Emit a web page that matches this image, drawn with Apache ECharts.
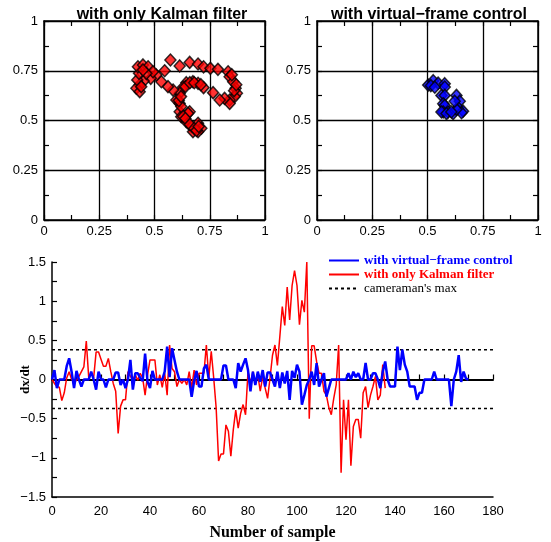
<!DOCTYPE html>
<html>
<head>
<meta charset="utf-8">
<script src="https://cdn.jsdelivr.net/npm/echarts@6/dist/echarts.min.js"></script>
<style>
  html, body { margin: 0; padding: 0; background: #fff; }
  #chart { width: 551px; height: 542px; }
</style>
</head>
<body>
<div id="chart"></div>
<script>
// camera position scatter, only Kalman filter [x, y]
const kalmanXY = [
  [0.572, 0.804], [0.614, 0.774], [0.659, 0.792], [0.697, 0.784], [0.722, 0.770],
  [0.753, 0.762], [0.787, 0.757], [0.833, 0.745], [0.840, 0.720], [0.856, 0.695],
  [0.867, 0.662], [0.873, 0.637], [0.863, 0.620], [0.840, 0.603], [0.840, 0.586],
  [0.817, 0.611], [0.795, 0.603], [0.765, 0.640], [0.722, 0.665], [0.697, 0.687],
  [0.674, 0.695], [0.644, 0.690], [0.629, 0.667], [0.614, 0.637], [0.599, 0.603],
  [0.614, 0.586], [0.614, 0.544], [0.621, 0.519], [0.644, 0.494], [0.659, 0.544],
  [0.667, 0.469], [0.674, 0.444], [0.697, 0.486], [0.712, 0.461], [0.697, 0.444],
  [0.652, 0.536], [0.621, 0.570], [0.584, 0.653], [0.561, 0.670], [0.531, 0.695],
  [0.508, 0.729], [0.483, 0.712], [0.451, 0.698], [0.433, 0.678], [0.418, 0.662],
  [0.422, 0.704], [0.430, 0.737], [0.425, 0.770], [0.448, 0.779], [0.471, 0.770],
  [0.493, 0.745], [0.546, 0.750], [0.433, 0.645], [0.440, 0.670], [0.463, 0.737],
  [0.448, 0.754], [0.630, 0.520], [0.640, 0.510], [0.660, 0.480], [0.680, 0.460],
  [0.690, 0.450], [0.700, 0.470], [0.610, 0.600], [0.620, 0.620], [0.640, 0.670],
  [0.660, 0.690], [0.680, 0.690], [0.710, 0.680], [0.850, 0.730], [0.860, 0.650],
  [0.870, 0.680]
];

// camera position scatter, with virtual-frame control [x, y]
const virtualXY = [
  [0.503, 0.678], [0.526, 0.700], [0.548, 0.688], [0.578, 0.685], [0.578, 0.668],
  [0.563, 0.626], [0.578, 0.626], [0.571, 0.584], [0.578, 0.576], [0.571, 0.543],
  [0.593, 0.543], [0.616, 0.535], [0.631, 0.626], [0.646, 0.597], [0.639, 0.564],
  [0.661, 0.547], [0.654, 0.539], [0.631, 0.556], [0.515, 0.675], [0.533, 0.667],
  [0.563, 0.543], [0.586, 0.535], [0.608, 0.543], [0.623, 0.597]
];

// dx/dt per sample, with virtual-frame control (samples 0..170)
const virtualDx = [
  0, 0.12, -0.11, 0, 0, 0, 0.17, 0.27, 0.1, -0.11,
  0.11, 0, -0.09, 0, 0, 0, 0.1, 0, -0.13, 0.1,
  0, 0, -0.1, 0, 0, 0, 0.09, 0.09, -0.07, 0,
  -0.11, 0, 0.25, -0.13, 0.08, 0.08, 0.02, -0.02, 0.33, -0.03,
  -0.11, 0.11, 0, 0, 0, 0, 0.1, 0.42, 0.03, 0.4,
  0.25, 0.1, 0, 0, 0, 0, 0, -0.22, -0.02, 0.11,
  -0.09, -0.09, 0.14, 0.19, 0, 0, 0, 0, 0, 0,
  0.18, 0.18, 0, 0, 0, -0.11, 0.21, 0.1, 0.19, 0.27,
  0.12, -0.15, 0.1, -0.07, 0.1, -0.03, 0.12, -0.09, 0.09, 0.09,
  0, -0.09, 0.1, -0.11, 0.09, -0.05, 0.11, -0.26, 0.11, 0.02,
  0.19, 0.1, -0.32, -0.2, -0.07, 0, 0.1, -0.07, 0.21, -0.09,
  0, 0.08, -0.22, -0.11, 0, 0, 0, 0, 0, 0,
  0, 0.08, 0, 0.1, 0.03, 0.08, 0, 0, 0.21, 0,
  0, 0.08, 0.08, 0, -0.11, 0.1, 0.23, 0, -0.09, -0.09,
  -0.09, 0.42, 0.12, 0.38, 0.19, 0.1, -0.09, -0.09, -0.09, -0.26,
  -0.17, -0.17, 0, 0, 0, 0, 0.1, 0, 0, 0,
  0, 0, 0, -0.34, 0, 0.1, 0.31, -0.03, 0.1, 0.01,
  0
];

// dx/dt per sample, with only Kalman filter (samples 0..136)
const kalmanDx = [
  0, -0.05, -0.09, -0.1, -0.27, -0.17, 0.02, 0.1, 0, -0.03,
  -0.01, 0.04, 0.1, 0.16, 0.49, 0.02, 0.08, 0.02, 0.35, 0.35,
  0.26, 0.17, 0.17, 0.27, 0.1, -0.05, -0.15, -0.69, -0.34, -0.26,
  -0.26, 0.1, 0.04, 0, 0.06, -0.01, 0.08, 0.02, -0.2, 0.06,
  0.25, 0.25, 0.25, -0.07, 0.06, -0.1, 0.08, -0.2, 0.44, 0.14,
  0.1, -0.09, 0, -0.05, 0, -0.07, 0.1, -0.11, 0.12, -0.07,
  0.08, 0.08, 0.08, 0.44, 0.02, 0.36, 0.02, -0.36, -1.04, -0.95,
  -0.95, -0.58, -0.66, -0.98, -0.64, -0.39, -0.62, -0.43, -0.32, -0.45,
  0.1, -0.05, 0.1, -0.05, 0.06, -0.15, 0.04, -0.11, -0.24, 0.02,
  0.31, 0.44, 0.18, 0.55, 0.93, 0.69, 1.18, 0.76, 1.2, 1.39,
  1.2, 0.7, 1.01, 0.86, 1.5, -0.5, 0.43, 0.43, 0.23, 0.08,
  0.08, -0.15, -0.2, -0.36, -0.45, -0.24, -0.07, 0.44, -1.19, -0.26,
  -0.77, -0.26, -1.1, -0.6, -0.51, -0.51, -0.75, -0.17, -0.09, -0.36,
  -0.2, -0.09, 0.04, -0.26, -0.2, 0.19, -0.11
];

// cameraman's max speed levels
const cameramanMax = [0.38, -0.37];
const sampleRange = [0, 180];

const MINUS = '\u2212';
const sans = '"Liberation Sans", Arial, sans-serif';
const serif = '"Liberation Serif", "Times New Roman", serif';

function fmt(v) {
  return String(v).replace('-', MINUS);
}

function unitAxis(gridIndex, showLabel, isX) {
  return {
    gridIndex: gridIndex,
    type: 'value',
    min: 0,
    max: 1,
    interval: 0.25,
    axisLine: { onZero: false, lineStyle: { color: '#000', width: 1.5 } },
    axisTick: { inside: true, length: 5, lineStyle: { color: '#000', width: 1.2 } },
    minorTick: { show: true, splitNumber: 2, length: 5, lineStyle: { color: '#000', width: 1.2 } },
    axisLabel: {
      show: showLabel,
      color: '#000',
      fontFamily: sans,
      fontSize: 13,
      margin: isX ? 5 : 6,
      formatter: v => String(v),
      showMinLabel: true,
      showMaxLabel: true
    },
    splitLine: { show: showLabel, lineStyle: { color: '#000', width: 1.3 } }
  };
}

const xAxes = [
  Object.assign(unitAxis(0, true, true), { position: 'bottom' }),
  Object.assign(unitAxis(0, false, true), { position: 'top' }),
  Object.assign(unitAxis(1, true, true), { position: 'bottom' }),
  Object.assign(unitAxis(1, false, true), { position: 'top' }),
  {
    gridIndex: 2,
    type: 'value',
    position: 'bottom',
    min: sampleRange[0],
    max: sampleRange[1],
    interval: 20,
    name: 'Number of sample',
    nameLocation: 'middle',
    nameGap: 28,
    nameTextStyle: { fontFamily: serif, fontWeight: 'bold', fontSize: 16, color: '#000' },
    axisLine: { onZero: false, lineStyle: { color: '#000', width: 1.5 } },
    axisTick: { show: false },
    axisLabel: { color: '#000', fontFamily: sans, fontSize: 13, margin: 8 },
    splitLine: { show: false }
  },
  {
    // zero line with its own ticks
    gridIndex: 2,
    type: 'value',
    position: 'bottom',
    min: sampleRange[0],
    max: sampleRange[1],
    interval: 10,
    axisLine: { onZero: true, lineStyle: { color: '#000', width: 2 } },
    axisTick: { inside: true, length: 5, lineStyle: { color: '#000', width: 1.2 } },
    axisLabel: { show: false },
    splitLine: { show: false }
  }
];

const yAxes = [
  Object.assign(unitAxis(0, true, false), { position: 'left' }),
  Object.assign(unitAxis(0, false, false), { position: 'right' }),
  Object.assign(unitAxis(1, true, false), { position: 'left' }),
  Object.assign(unitAxis(1, false, false), { position: 'right' }),
  {
    gridIndex: 2,
    type: 'value',
    min: -1.5,
    max: 1.5,
    interval: 0.5,
    name: 'dx/dt',
    nameLocation: 'middle',
    nameGap: 20,
    nameRotate: 90,
    nameMoveOverlap: false,
    nameTextStyle: { fontFamily: serif, fontWeight: 'bold', fontSize: 13, color: '#000' },
    axisLine: { onZero: false, lineStyle: { color: '#000', width: 1.5 } },
    axisTick: { inside: true, length: 5, lineStyle: { color: '#000', width: 1.2 } },
    minorTick: { show: true, splitNumber: 2, length: 5, lineStyle: { color: '#000', width: 1.2 } },
    axisLabel: { color: '#000', fontFamily: sans, fontSize: 13, margin: 6, formatter: fmt },
    splitLine: { show: false }
  }
];

const maxLine = [
  [sampleRange[0], cameramanMax[0]], [sampleRange[1], cameramanMax[0]], '-',
  [sampleRange[0], cameramanMax[1]], [sampleRange[1], cameramanMax[1]]
];

const diamond = {
  type: 'scatter',
  symbol: 'diamond',
  symbolSize: [11, 12],
  z: 3
};

const option = {
  animation: false,
  backgroundColor: '#fff',
  title: [
    {
      text: 'with only Kalman filter',
      left: 157, top: 2, textAlign: 'center',
      textStyle: { fontFamily: sans, fontWeight: 'bold', fontSize: 16, color: '#000' }
    },
    {
      text: 'with virtual' + MINUS + 'frame control',
      left: 424, top: 2, textAlign: 'center',
      textStyle: { fontFamily: sans, fontWeight: 'bold', fontSize: 16, color: '#000' }
    }
  ],
  legend: {
    orient: 'vertical',
    left: 328,
    top: 254,
    itemWidth: 30,
    itemHeight: 8,
    itemGap: 1,
    padding: 0,
    selectedMode: false,
    itemStyle: { opacity: 0 },
    data: [
      { name: 'with virtual' + MINUS + 'frame control',
        textStyle: { color: '#0000ff', fontWeight: 'bold', fontFamily: serif, fontSize: 13 } },
      { name: 'with only Kalman filter',
        textStyle: { color: '#ff0000', fontWeight: 'bold', fontFamily: serif, fontSize: 13 } },
      { name: "cameraman's max",
        textStyle: { color: '#000', fontFamily: serif, fontSize: 13 } }
    ]
  },
  grid: [
    { left: 44, top: 21, width: 221, height: 199 },
    { left: 317, top: 21, width: 221, height: 199 },
    { left: 52, top: 262, width: 441, height: 235 }
  ],
  xAxis: xAxes,
  yAxis: yAxes,
  series: [
    Object.assign({}, diamond, {
      name: 'kalmanScatter',
      xAxisIndex: 0, yAxisIndex: 0,
      data: kalmanXY,
      itemStyle: { color: '#ff0000', borderColor: '#000', borderWidth: 1.5 }
    }),
    Object.assign({}, diamond, {
      name: 'virtualScatter',
      xAxisIndex: 2, yAxisIndex: 2,
      data: virtualXY,
      itemStyle: { color: '#0000ff', borderColor: '#000', borderWidth: 1.5 }
    }),
    {
      name: "cameraman's max",
      type: 'line',
      xAxisIndex: 4, yAxisIndex: 4,
      data: maxLine,
      symbol: 'none',
      connectNulls: false,
      lineStyle: { color: '#000', width: 1.5, type: [3, 3] },
      itemStyle: { color: '#000' }
    },
    {
      name: 'with only Kalman filter',
      type: 'line',
      xAxisIndex: 4, yAxisIndex: 4,
      data: kalmanDx.map((v, i) => [i, v]),
      symbol: 'none',
      lineStyle: { color: '#ff0000', width: 1.5 },
      itemStyle: { color: '#ff0000' }
    },
    {
      name: 'with virtual' + MINUS + 'frame control',
      type: 'line',
      xAxisIndex: 4, yAxisIndex: 4,
      data: virtualDx.map((v, i) => [i, v]),
      symbol: 'none',
      lineStyle: { color: '#0000ff', width: 2.5 },
      itemStyle: { color: '#0000ff' }
    }
  ]
};

const chart = echarts.init(document.getElementById('chart'), null, { renderer: 'canvas' });
chart.setOption(option);
</script>
</body>
</html>
